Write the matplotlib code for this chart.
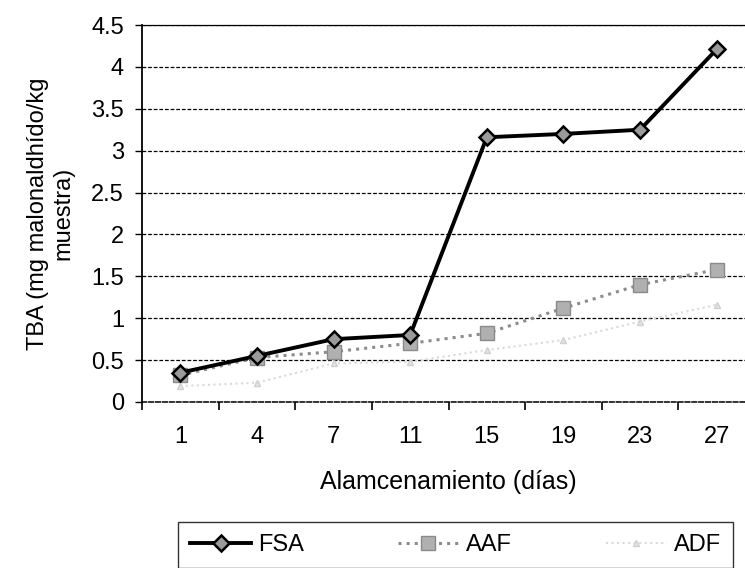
import matplotlib
matplotlib.use("Agg")
import matplotlib.pyplot as plt
import numpy as np

# storage days and TBA values
dias = ["1", "4", "7", "11", "15", "19", "23", "27"]
fsa = [0.35, 0.55, 0.75, 0.80, 3.16, 3.20, 3.25, 4.21]
aaf = [0.32, 0.53, 0.60, 0.70, 0.82, 1.12, 1.40, 1.58]
adf = [0.19, 0.23, 0.46, 0.48, 0.62, 0.74, 0.96, 1.16]
y_ticks = [0, 0.5, 1, 1.5, 2, 2.5, 3, 3.5, 4, 4.5]
y_labels = ["0", "0.5", "1", "1.5", "2", "2.5", "3", "3.5", "4", "4.5"]

plt.rcParams['font.family'] = ['Liberation Sans', 'DejaVu Sans']
fs = 17

W, H = 745, 568
fig = plt.figure(figsize=(W / 100, H / 100), dpi=100)
# plot area runs past the right edge (the original scan is cropped there)
ax = fig.add_axes([142 / W, 1 - 402 / H, 613 / W, 377 / H])

x = np.arange(len(dias))
ax.plot(x, adf, linestyle=':', color='#d9d9d9', linewidth=1.5, marker='^',
        markersize=5, markerfacecolor='#e4e4e4', markeredgecolor='#d0d0d0', label='ADF', zorder=3)
ax.plot(x, aaf, linestyle=':', color='#8c8c8c', linewidth=2.2, marker='s',
        markersize=10, markerfacecolor='#b0b0b0', markeredgecolor='#8a8a8a', label='AAF', zorder=4)
ax.plot(x, fsa, linestyle='-', color='black', linewidth=2.8, marker='D',
        markersize=8, markerfacecolor='#9a9a9a', markeredgecolor='black',
        markeredgewidth=1.8, label='FSA', zorder=5)

ax.set_xlim(-0.5, len(dias) - 0.5)
ax.set_ylim(0, 4.5)
ax.set_yticks(y_ticks)
ax.set_yticklabels(y_labels)
ax.set_xticks(x)
ax.set_xticklabels(dias)
ax.set_xticks(np.arange(len(dias) + 1) - 0.5, minor=True)
ax.tick_params(axis='x', which='major', length=0, pad=17, labelsize=fs)
ax.tick_params(axis='x', which='minor', length=6, width=1.2, direction='out', color='black')
ax.tick_params(axis='y', length=5, width=1, direction='out', pad=8, labelsize=fs)

ax.yaxis.grid(True, color='black', linestyle=(0, (3, 1.5)), linewidth=0.9)
ax.set_axisbelow(True)

ax.spines['right'].set_visible(False)
ax.spines['top'].set_linestyle((0, (1.5, 1)))
ax.spines['top'].set_linewidth(0.9)
ax.spines['bottom'].set_linestyle((0, (3, 1.5)))
ax.spines['bottom'].set_linewidth(1.1)
ax.spines['left'].set_linewidth(1.3)

ax.set_xlabel("Alamcenamiento (días)", fontsize=18, labelpad=16)
ax.set_ylabel("TBA (mg malonaldhído/kg\nmuestra)", fontsize=fs, labelpad=12)

handles, labels = ax.get_legend_handles_labels()
order = [2, 1, 0]
leg = fig.legend([handles[i] for i in order], [labels[i] for i in order],
                 loc='upper left', bbox_to_anchor=(178 / W, 1 - 522 / H, (733 - 178) / W, 0),
                 mode='expand', ncol=3, fontsize=fs, frameon=True, fancybox=False,
                 edgecolor='black', handlelength=2.6, borderpad=0.5, borderaxespad=0,
                 handletextpad=0.3)
leg.get_frame().set_linewidth(1.0)

fig.savefig("out.png", dpi=100)
